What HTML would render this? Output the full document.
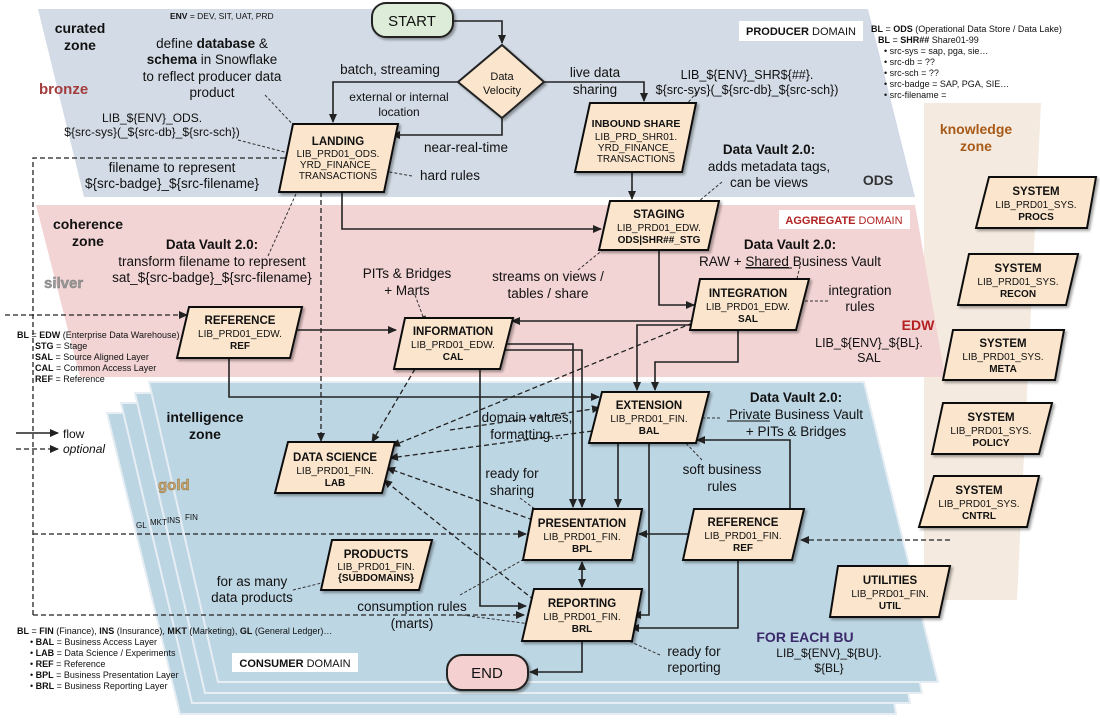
<!DOCTYPE html>
<html><head><meta charset="utf-8"><style>
html,body{margin:0;padding:0;background:#fff}
svg{display:block}
text{font-family:"Liberation Sans",sans-serif;fill:#111}
.a{font-size:13.5px;text-anchor:middle}
.t{font-size:11.5px;font-weight:bold;text-anchor:middle}
.s{font-size:10px;text-anchor:middle}
.sb{font-size:10px;font-weight:bold;text-anchor:middle}
.z{font-size:14px;font-weight:bold;text-anchor:middle}
.l{font-size:9px}
.n{fill:#fbe6cd;stroke:#111;stroke-width:2}
.c{fill:none;stroke:#222;stroke-width:1.6}
.d{fill:none;stroke:#222;stroke-width:1.3;stroke-dasharray:5,3}
.q{fill:none;stroke:#333;stroke-width:1;stroke-dasharray:3,2}
</style></head><body>
<svg width="1100" height="720" viewBox="0 0 1100 720" xmlns="http://www.w3.org/2000/svg">
<defs>
<marker id="ar" markerWidth="10" markerHeight="10" refX="8" refY="5" orient="auto" markerUnits="userSpaceOnUse"><path d="M0,1 L9,5 L0,9 z" fill="#222"/></marker>
<marker id="ars" markerWidth="10" markerHeight="10" refX="8" refY="5" orient="auto-start-reverse" markerUnits="userSpaceOnUse"><path d="M0,1 L9,5 L0,9 z" fill="#222"/></marker>
<marker id="sm" markerWidth="8" markerHeight="8" refX="6" refY="4" orient="auto" markerUnits="userSpaceOnUse"><path d="M0,1 L7,4 L0,7 z" fill="#222"/></marker>
<filter id="sh" x="-10%" y="-10%" width="130%" height="130%"><feDropShadow dx="2" dy="2" stdDeviation="1.2" flood-opacity="0.35"/></filter>
</defs>

<!-- knowledge zone -->
<polygon points="924,103 1041,103 1017,600 924,600" fill="#f4eadf"/>
<!-- curated zone -->
<polygon points="38,9 868,9 915,197 84,197" fill="#d3dce6"/>
<!-- coherence -->
<polygon points="36,205 915,205 945,377 80,377" fill="#f3d4d4"/>
<!-- intelligence stack -->
<polygon points="107,413 850,413 896,714 180,714" fill="#bcd5e3" stroke="#e6eef3" stroke-width="2"/>
<polygon points="121,403 858,403 910,703 192,703" fill="#bcd5e3" stroke="#e6eef3" stroke-width="2"/>
<polygon points="135,393 862,393 922,693 205,693" fill="#bcd5e3" stroke="#e6eef3" stroke-width="2"/>
<polygon points="149,382 864,382 938,682 218,682" fill="#bdd6e4" stroke="#e6eef3" stroke-width="2"/>

<!-- domain boxes -->
<rect x="739" y="21" width="124" height="20" fill="#fff"/>
<text x="801" y="35" style="font-size:11px;text-anchor:middle"><tspan font-weight="bold">PRODUCER</tspan> DOMAIN</text>
<rect x="779" y="210" width="131" height="19" fill="#fff"/>
<text x="844" y="224" style="font-size:11px;text-anchor:middle;fill:#b22222"><tspan font-weight="bold" fill="#b22222">AGGREGATE</tspan> DOMAIN</text>
<rect x="232" y="653" width="126" height="19" fill="#fff"/>
<text x="295" y="667" style="font-size:11px;text-anchor:middle"><tspan font-weight="bold">CONSUMER</tspan> DOMAIN</text>

<!-- zone labels -->
<text class="z" x="80" y="33">curated</text><text class="z" x="80" y="50">zone</text>
<text x="39" y="94" style="font-size:15px;font-weight:bold;fill:#a33c3c">bronze</text>
<text class="z" x="88" y="229">coherence</text><text class="z" x="88" y="246">zone</text>
<text x="44" y="288" style="font-size:15px;font-weight:bold;fill:#999;stroke:#777;stroke-width:0.4">silver</text>
<text class="z" x="205" y="422">intelligence</text><text class="z" x="205" y="439">zone</text>
<text x="158" y="490" style="font-size:15px;font-weight:bold;fill:#c8a46a;stroke:#8a6a3a;stroke-width:0.4">gold</text>
<text class="z" x="976" y="134" style="fill:#a85a18">knowledge</text><text class="z" x="976" y="151" style="fill:#a85a18">zone</text>
<text class="z" x="878" y="185" style="fill:#333">ODS</text>
<text class="z" x="918" y="330" style="fill:#b22222">EDW</text>
<text class="z" x="805" y="642" style="fill:#3a2a6a;text-anchor:middle">FOR EACH BU</text>
<text x="829" y="657" style="font-size:12px;text-anchor:middle">LIB_${ENV}_${BU}.</text>
<text x="829" y="672" style="font-size:12px;text-anchor:middle">${BL}</text>
<text x="136" y="528" style="font-size:8px">GL</text><text x="150" y="525" style="font-size:8px">MKT</text>
<text x="167" y="523" style="font-size:8px">INS</text><text x="185" y="520" style="font-size:8px">FIN</text>

<!-- legends -->
<text x="170" y="19" style="font-size:8.5px"><tspan font-weight="bold">ENV</tspan> = DEV, SIT, UAT, PRD</text>
<g class="l">
<text x="871" y="32" class="l"><tspan font-weight="bold">BL</tspan> = <tspan font-weight="bold">ODS</tspan> (Operational Data Store / Data Lake)</text>
<text x="878" y="43" class="l"><tspan font-weight="bold">BL</tspan> = <tspan font-weight="bold">SHR##</tspan> Share01-99</text>
<text x="884" y="54" class="l">• src-sys =  sap, pga, sie…</text>
<text x="884" y="65" class="l">• src-db = ??</text>
<text x="884" y="76" class="l">• src-sch = ??</text>
<text x="884" y="87" class="l">• src-badge = SAP, PGA, SIE…</text>
<text x="884" y="98" class="l">• src-filename =</text>
<text x="17" y="338" class="l"><tspan font-weight="bold">BL</tspan> = <tspan font-weight="bold">EDW</tspan> (Enterprise Data Warehouse)</text>
<text x="35" y="349" class="l"><tspan font-weight="bold">STG</tspan> = Stage</text>
<text x="35" y="360" class="l"><tspan font-weight="bold">SAL</tspan> = Source Aligned Layer</text>
<text x="35" y="371" class="l"><tspan font-weight="bold">CAL</tspan> = Common Access Layer</text>
<text x="35" y="382" class="l"><tspan font-weight="bold">REF</tspan> = Reference</text>
<text x="17" y="634" class="l"><tspan font-weight="bold">BL</tspan> = <tspan font-weight="bold">FIN</tspan> (Finance), <tspan font-weight="bold">INS</tspan> (Insurance), <tspan font-weight="bold">MKT</tspan> (Marketing), <tspan font-weight="bold">GL</tspan> (General Ledger)…</text>
<text x="30" y="645" class="l">• <tspan font-weight="bold">BAL</tspan> = Business Access Layer</text>
<text x="30" y="656" class="l">• <tspan font-weight="bold">LAB</tspan> = Data Science / Experiments</text>
<text x="30" y="667" class="l">• <tspan font-weight="bold">REF</tspan> = Reference</text>
<text x="30" y="678" class="l">• <tspan font-weight="bold">BPL</tspan> = Business Presentation Layer</text>
<text x="30" y="689" class="l">• <tspan font-weight="bold">BRL</tspan> = Business Reporting Layer</text>
</g>
<line x1="16" y1="433" x2="58" y2="433" class="c" marker-end="url(#ar)"/>
<text x="63" y="438" style="font-size:12px">flow</text>
<line x1="16" y1="449" x2="58" y2="449" class="d" marker-end="url(#ar)"/>
<text x="63" y="453" style="font-size:12px;font-style:italic">optional</text>

<!-- dashed structural -->
<polyline points="33,615 33,158 290,158" class="d"/>
<line x1="33" y1="534" x2="526" y2="534" class="d" marker-end="url(#ar)"/>
<line x1="33" y1="615" x2="524" y2="615" class="d" marker-end="url(#ar)"/>
<line x1="321" y1="192" x2="321" y2="441" class="d" marker-end="url(#ar)"/>
<line x1="5" y1="315" x2="187" y2="315" class="d" marker-end="url(#ar)"/>
<line x1="950" y1="540" x2="801" y2="540" class="d" marker-end="url(#ar)"/>
<line x1="415" y1="369" x2="372" y2="442" class="d" marker-end="url(#ar)"/>
<line x1="700" y1="320" x2="392" y2="446" class="d" marker-end="url(#ar)"/>
<line x1="600" y1="430" x2="390" y2="458" class="d" marker-end="url(#ar)"/>
<line x1="533" y1="520" x2="387" y2="468" class="d" marker-end="url(#ar)"/>
<line x1="534" y1="600" x2="384" y2="480" class="d" marker-end="url(#ar)"/>
<line x1="450" y1="430" x2="600" y2="408" class="d" marker-end="url(#ar)"/>

<!-- solid connectors -->
<polyline points="453,21 502,21 502,43" class="c" marker-end="url(#ar)"/>
<polyline points="458,82 333,82 333,122" class="c" marker-end="url(#ar)"/>
<polyline points="502,118 502,135 392,135" class="c" marker-end="url(#ar)"/>
<polyline points="544,82 644,82 644,101" class="c" marker-end="url(#ar)"/>
<line x1="632" y1="172" x2="632" y2="199" class="c" marker-end="url(#ar)"/>
<polyline points="342,192 342,229 601,229" class="c" marker-end="url(#ar)"/>
<polyline points="659,250 659,305 694,305" class="c" marker-end="url(#ar)"/>
<line x1="697" y1="321" x2="512" y2="321" class="c" marker-end="url(#ar)"/>
<line x1="296" y1="330" x2="396" y2="330" class="c" marker-end="url(#ar)"/>
<polyline points="229,358 229,397 599,397" class="c" marker-end="url(#ar)"/>
<polyline points="498,344 573,344 573,507" class="c" marker-end="url(#ar)"/>
<polyline points="496,350 582,350 582,507" class="c" marker-end="url(#ar)"/>
<polyline points="480,369 480,606 526,606" class="c" marker-end="url(#ar)"/>
<polyline points="700,325 637,325 637,390" class="c" marker-end="url(#ar)"/>
<polyline points="738,330 738,362 655,362 655,390" class="c" marker-end="url(#ar)"/>
<line x1="618" y1="443" x2="618" y2="507" class="c" marker-end="url(#ar)"/>
<polyline points="649,443 649,615 633,615" class="c" marker-end="url(#ar)"/>
<line x1="689" y1="534" x2="639" y2="534" class="c" marker-end="url(#ar)"/>
<polyline points="790,509 790,440 697,440" class="c" marker-end="url(#ar)"/>
<polyline points="738,560 738,628 631,628" class="c" marker-end="url(#ar)"/>
<line x1="582" y1="562" x2="582" y2="587" class="c" marker-start="url(#ars)" marker-end="url(#ar)"/>
<polyline points="582,641 582,672 530,672" class="c" marker-end="url(#ar)"/>

<!-- annotation leaders -->
<line x1="265" y1="95" x2="298" y2="130" class="q" marker-end="url(#sm)"/>
<line x1="238" y1="140" x2="300" y2="156" class="q" marker-end="url(#sm)"/>
<line x1="412" y1="176" x2="378" y2="170" class="q" marker-end="url(#sm)"/>
<line x1="268" y1="256" x2="300" y2="185" class="q" marker-end="url(#sm)"/>
<line x1="697" y1="92" x2="680" y2="112" class="q" marker-end="url(#sm)"/>
<line x1="722" y1="182" x2="693" y2="206" class="q" marker-end="url(#sm)"/>
<line x1="578" y1="270" x2="610" y2="244" class="q" marker-end="url(#sm)"/>
<line x1="800" y1="266" x2="795" y2="287" class="q" marker-end="url(#sm)"/>
<line x1="828" y1="301" x2="792" y2="301" class="q" marker-end="url(#sm)"/>
<line x1="415" y1="295" x2="425" y2="322" class="q" marker-end="url(#sm)"/>
<line x1="720" y1="418" x2="690" y2="418" class="q" marker-end="url(#sm)"/>
<line x1="702" y1="460" x2="680" y2="437" class="q" marker-end="url(#sm)"/>
<line x1="520" y1="498" x2="543" y2="515" class="q" marker-end="url(#sm)"/>
<line x1="460" y1="595" x2="535" y2="553" class="q" marker-end="url(#sm)"/>
<line x1="462" y1="615" x2="538" y2="625" class="q" marker-end="url(#sm)"/>
<line x1="660" y1="655" x2="620" y2="637" class="q" marker-end="url(#sm)"/>
<line x1="293" y1="590" x2="334" y2="580" class="q" marker-end="url(#sm)"/>

<!-- nodes -->
<g filter="url(#sh)">
<rect x="372" y="3" width="81" height="34" rx="14" fill="#dcecd8" stroke="#222" stroke-width="2"/>
<polygon points="502,45 544,82 502,118 458,82" fill="#fbe6cd" stroke="#222" stroke-width="2"/>
<polygon class="n" points="293,124 398,124 384,192 279,192"/>
<polygon class="n" points="590,103 696,103 682,172 575,172"/>
<polygon class="n" points="610,201 719,201 708,250 599,250"/>
<polygon class="n" points="700,279 809,279 796,330 690,330"/>
<polygon class="n" points="189,307 302,307 290,358 177,358"/>
<polygon class="n" points="405,318 513,318 500,369 394,369"/>
<polygon class="n" points="602,392 709,392 696,443 589,443"/>
<polygon class="n" points="288,442 395,442 382,493 275,493"/>
<polygon class="n" points="533,509 642,509 632,560 523,560"/>
<polygon class="n" points="534,589 642,589 632,641 522,641"/>
<polygon class="n" points="694,509 804,509 792,560 683,560"/>
<polygon class="n" points="332,540 432,540 419,590 321,590"/>
<polygon class="n" points="838,566 950,566 939,617 830,617"/>
<polygon class="n" points="989,177 1096,177 1087,228 976,228"/>
<polygon class="n" points="969,254 1078,254 1066,305 958,305"/>
<polygon class="n" points="953,330 1064,330 1055,380 943,380"/>
<polygon class="n" points="943,403 1052,403 1039,454 932,454"/>
<polygon class="n" points="934,476 1039,476 1027,527 919,527"/>
<rect x="447" y="655" width="81" height="35" rx="15" fill="#f5d0d0" stroke="#222" stroke-width="2"/>
</g>
<text x="412" y="26" style="font-size:15px;text-anchor:middle">START</text>
<text x="502" y="80" style="font-size:11px;text-anchor:middle">Data</text>
<text x="502" y="94" style="font-size:11px;text-anchor:middle">Velocity</text>
<text x="487" y="678" style="font-size:15px;text-anchor:middle">END</text>

<text class="t" x="338" y="145">LANDING</text><text class="s" x="338" y="157">LIB_PRD01_ODS.</text><text class="s" x="338" y="168">YRD_FINANCE_</text><text class="s" x="338" y="179">TRANSACTIONS</text>
<text class="t" x="636" y="127" style="font-size:10.5px">INBOUND SHARE</text><text class="s" x="636" y="140">LIB_PRD_SHR01.</text><text class="s" x="636" y="151">YRD_FINANCE_</text><text class="s" x="636" y="162">TRANSACTIONS</text>
<text class="t" x="659" y="218">STAGING</text><text class="s" x="659" y="231">LIB_PRD01_EDW.</text><text class="sb" x="659" y="243">ODS|SHR##_STG</text>
<text class="t" x="748" y="297">INTEGRATION</text><text class="s" x="748" y="310">LIB_PRD01_EDW.</text><text class="sb" x="748" y="322">SAL</text>
<text class="t" x="240" y="324">REFERENCE</text><text class="s" x="240" y="337">LIB_PRD01_EDW.</text><text class="sb" x="240" y="349">REF</text>
<text class="t" x="453" y="335">INFORMATION</text><text class="s" x="453" y="348">LIB_PRD01_EDW.</text><text class="sb" x="453" y="360">CAL</text>
<text class="t" x="649" y="409">EXTENSION</text><text class="s" x="649" y="422">LIB_PRD01_FIN.</text><text class="sb" x="649" y="434">BAL</text>
<text class="t" x="335" y="461">DATA SCIENCE</text><text class="s" x="335" y="474">LIB_PRD01_FIN.</text><text class="sb" x="335" y="486">LAB</text>
<text class="t" x="582" y="527">PRESENTATION</text><text class="s" x="582" y="540">LIB_PRD01_FIN.</text><text class="sb" x="582" y="552">BPL</text>
<text class="t" x="582" y="607">REPORTING</text><text class="s" x="582" y="620">LIB_PRD01_FIN.</text><text class="sb" x="582" y="632">BRL</text>
<text class="t" x="743" y="526">REFERENCE</text><text class="s" x="743" y="539">LIB_PRD01_FIN.</text><text class="sb" x="743" y="551">REF</text>
<text class="t" x="376" y="558">PRODUCTS</text><text class="s" x="376" y="570">LIB_PRD01_FIN.</text><text class="sb" x="376" y="581">{SUBDOMAINS}</text>
<text class="t" x="890" y="584">UTILITIES</text><text class="s" x="890" y="597">LIB_PRD01_FIN.</text><text class="sb" x="890" y="609">UTIL</text>
<text class="t" x="1036" y="195">SYSTEM</text><text class="s" x="1036" y="208">LIB_PRD01_SYS.</text><text class="sb" x="1036" y="220">PROCS</text>
<text class="t" x="1018" y="272">SYSTEM</text><text class="s" x="1018" y="285">LIB_PRD01_SYS.</text><text class="sb" x="1018" y="297">RECON</text>
<text class="t" x="1003" y="347">SYSTEM</text><text class="s" x="1003" y="360">LIB_PRD01_SYS.</text><text class="sb" x="1003" y="372">META</text>
<text class="t" x="991" y="421">SYSTEM</text><text class="s" x="991" y="434">LIB_PRD01_SYS.</text><text class="sb" x="991" y="446">POLICY</text>
<text class="t" x="979" y="494">SYSTEM</text><text class="s" x="979" y="507">LIB_PRD01_SYS.</text><text class="sb" x="979" y="519">CNTRL</text>

<!-- annotations -->
<text class="a" x="212" y="48">define <tspan font-weight="bold">database</tspan> &amp;</text>
<text class="a" x="212" y="64"><tspan font-weight="bold">schema</tspan> in Snowflake</text>
<text class="a" x="212" y="81">to reflect producer data</text>
<text class="a" x="212" y="97">product</text>
<text class="a" x="390" y="74">batch, streaming</text>
<text class="a" x="399" y="101" style="font-size:12px">external or internal</text>
<text class="a" x="399" y="116" style="font-size:12px">location</text>
<text class="a" x="152" y="122" style="font-size:12px">LIB_${ENV}_ODS.</text>
<text class="a" x="152" y="136" style="font-size:12px">${src-sys}(_${src-db}_${src-sch})</text>
<text class="a" x="172" y="172">filename to represent</text>
<text class="a" x="172" y="188">${src-badge}_${src-filename}</text>
<text class="a" x="466" y="152">near-real-time</text>
<text class="a" x="450" y="180">hard rules</text>
<text class="a" x="595" y="77">live data</text>
<text class="a" x="595" y="94">sharing</text>
<text class="a" x="747" y="79" style="font-size:12.5px">LIB_${ENV}_SHR${##}.</text>
<text class="a" x="747" y="94" style="font-size:12.5px">${src-sys}(_${src-db}_${src-sch})</text>
<text class="a" x="769" y="154" font-weight="bold">Data Vault 2.0:</text>
<text class="a" x="769" y="171">adds metadata tags,</text>
<text class="a" x="769" y="187">can be views</text>
<text class="a" x="212" y="249" font-weight="bold">Data Vault 2.0:</text>
<text class="a" x="212" y="266">transform filename to represent</text>
<text class="a" x="212" y="282">sat_${src-badge}_${src-filename}</text>
<text class="a" x="407" y="278">PITs &amp; Bridges</text>
<text class="a" x="407" y="295">+ Marts</text>
<text class="a" x="548" y="281">streams on views /</text>
<text class="a" x="548" y="298">tables / share</text>
<text class="a" x="790" y="249" font-weight="bold">Data Vault 2.0:</text>
<text class="a" x="790" y="266">RAW + <tspan text-decoration="underline">Shared</tspan> Business Vault</text>
<line x1="746" y1="268" x2="792" y2="268" stroke="#111" stroke-width="1"/>
<text class="a" x="860" y="295">integration</text>
<text class="a" x="860" y="311">rules</text>
<text class="a" x="869" y="347" style="font-size:12.5px">LIB_${ENV}_${BL}.</text>
<text class="a" x="869" y="362" style="font-size:12.5px">SAL</text>
<text class="a" x="796" y="402" font-weight="bold">Data Vault 2.0:</text>
<text class="a" x="796" y="419">Private Business Vault</text>
<line x1="727" y1="421" x2="770" y2="421" stroke="#111" stroke-width="1"/>
<text class="a" x="796" y="436">+ PITs &amp; Bridges</text>
<text class="a" x="527" y="422">domain values,</text>
<text class="a" x="527" y="439">formatting…</text>
<text class="a" x="722" y="474">soft business</text>
<text class="a" x="722" y="491">rules</text>
<text class="a" x="512" y="478">ready for</text>
<text class="a" x="512" y="495">sharing</text>
<text class="a" x="252" y="586">for as many</text>
<text class="a" x="252" y="602">data products</text>
<text class="a" x="412" y="611">consumption rules</text>
<text class="a" x="412" y="628">(marts)</text>
<text class="a" x="694" y="656">ready for</text>
<text class="a" x="694" y="672">reporting</text>
</svg>
</body></html>
